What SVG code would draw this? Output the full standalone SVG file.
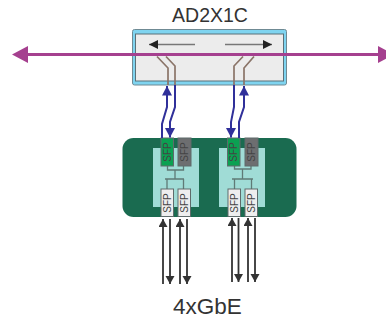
<svg xmlns="http://www.w3.org/2000/svg" width="386" height="321" viewBox="0 0 386 321">
<style>
.sfp{stroke:#5f6b6b;stroke-width:1}
.w{fill:#eeeeee}
.s{font:10px "Liberation Sans",Arial,sans-serif;fill:#444;text-anchor:middle}
.t{font-family:"Liberation Sans",Arial,sans-serif;fill:#333;text-anchor:middle}
.br{fill:none;stroke:#8a7468;stroke-width:1.700}
.bl{fill:none;stroke:#30309a;stroke-width:2}
.bk{fill:none;stroke:#333;stroke-width:1.800}
.tr{fill:none;stroke:#5f7a76;stroke-width:1.300}
</style>
<defs>
<marker id="bh" markerUnits="userSpaceOnUse" markerWidth="11" markerHeight="11" refX="9.500" refY="5" orient="auto"><path d="M0 0L9.500 5L0 10Z" fill="#30309a"/></marker>
<marker id="kh" markerUnits="userSpaceOnUse" markerWidth="10" markerHeight="11" refX="9" refY="4.500" orient="auto"><path d="M0 0L9 4.500L0 9Z" fill="#222"/></marker>
<marker id="gh" markerUnits="userSpaceOnUse" markerWidth="10" markerHeight="11" refX="8" refY="4.500" orient="auto"><path d="M0 0L8 4.500L0 9Z" fill="#333"/></marker>
</defs>
<g id="ad2x1c">
<rect x="132.500" y="29.500" width="154" height="55.500" rx="2" fill="#7fd4f0" stroke="#6f8a94"/>
<rect x="135.500" y="34" width="148" height="47" fill="#ececec" stroke="#5a7078" stroke-width="1"/>
<text class="t" x="210" y="22" font-size="19.500">AD2X1C</text>
<path d="M195 44.500H149" class="tr" style="stroke:#777" marker-end="url(#kh)"/>
<path d="M225 44.500H272" class="tr" style="stroke:#777" marker-end="url(#kh)"/>
</g>
<g id="switch">
<rect x="122.500" y="138" width="174" height="79" rx="11" fill="#1a6b50"/>
</g>
<g id="left-module">
<rect x="153" y="148" width="46" height="59" fill="#a0dcd6"/>
<path class="tr" d="M167.500 166V170H183.500V166M175 170V179M165 179H184M167 179V189M183.500 179V189"/>
<rect class="sfp" x="161" y="138" width="12.500" height="28" fill="#0ba152"/>
<rect class="sfp" x="178" y="138" width="13" height="28" fill="#6d6e70"/>
<rect class="sfp w" x="161" y="189" width="12.500" height="27.500"/>
<rect class="sfp w" x="178" y="189" width="12.500" height="27.500"/>
<text class="s" transform="translate(170.800 152) rotate(-90)">SFP</text>
<text class="s" transform="translate(188 152) rotate(-90)">SFP</text>
<text class="s" transform="translate(170.800 203) rotate(-90)">SFP</text>
<text class="s" transform="translate(187.800 203) rotate(-90)">SFP</text>
</g>
<g id="right-module">
<rect x="219" y="148" width="46" height="59" fill="#a0dcd6"/>
<path class="tr" d="M234.500 166V169H251V166M242.500 169V179M232 179H253M234.500 179V189M251.500 179V189"/>
<rect class="sfp" x="227.500" y="138" width="12.500" height="28" fill="#0ba152"/>
<rect class="sfp" x="245" y="138" width="13" height="28" fill="#6d6e70"/>
<rect class="sfp w" x="228" y="189" width="12.500" height="27.500"/>
<rect class="sfp w" x="245" y="189" width="12.500" height="27.500"/>
<text class="s" transform="translate(237.300 152) rotate(-90)">SFP</text>
<text class="s" transform="translate(255 152) rotate(-90)">SFP</text>
<text class="s" transform="translate(237.800 203) rotate(-90)">SFP</text>
<text class="s" transform="translate(254.800 203) rotate(-90)">SFP</text>
</g>
<g id="connectors">
<path class="br" d="M157 56.500L168 68V85M166 56.500L175 66V85M243 56.500L234 66V85M254 56.500L244 68V85"/>
<path class="bl" d="M162 138V124L167 107V86" marker-end="url(#bh)"/>
<path class="bl" d="M175 85V107L170 122V137.500" marker-end="url(#bh)"/>
<path class="bl" d="M234 85V107L231 122V137.500" marker-end="url(#bh)"/>
<path class="bl" d="M239 138V122L244 107V86" marker-end="url(#bh)"/>
<path d="M27 54.500H380" fill="none" stroke="#a5408f" stroke-width="3"/>
<path d="M12 54.500L28 46V63Z M394 54.500L378 46V63Z" fill="#a5408f"/>
<path class="bk" d="M163 284V219" marker-end="url(#gh)"/>
<path class="bk" d="M170 219V284" marker-end="url(#gh)"/>
<path class="bk" d="M180 284V219" marker-end="url(#gh)"/>
<path class="bk" d="M187 219V284" marker-end="url(#gh)"/>
<path class="bk" d="M232 282V218" marker-end="url(#gh)"/>
<path class="bk" d="M238.500 218V282" marker-end="url(#gh)"/>
<path class="bk" d="M248 282V218" marker-end="url(#gh)"/>
<path class="bk" d="M255 218V282" marker-end="url(#gh)"/>
</g>
<text class="t" x="207.500" y="314" font-size="22.500">4xGbE</text>
</svg>
